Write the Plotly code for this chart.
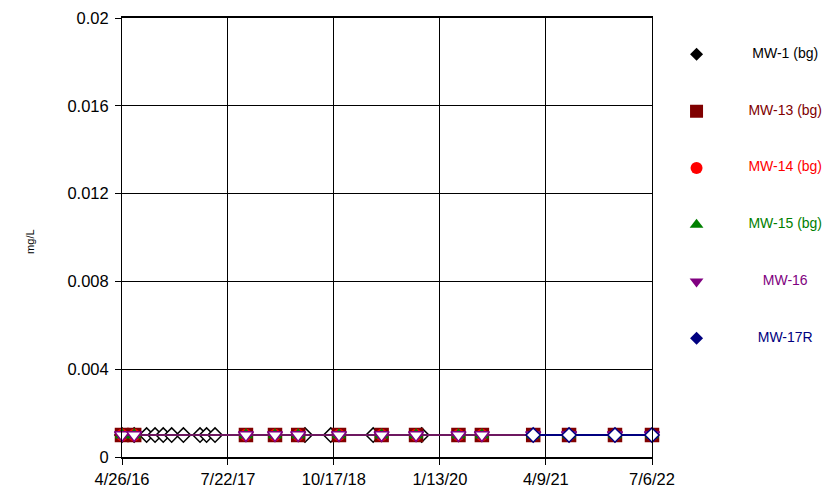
import plotly.graph_objects as go

# Sample dates (all results reported at the 0.001 mg/L reporting limit)
DATES_MW1 = [
    "2016-04-26", "2016-06-17", "2016-08-09", "2016-09-14", "2016-10-19",
    "2016-11-24", "2017-01-13", "2017-03-25", "2017-04-22", "2017-05-28",
    "2018-06-16", "2018-10-04", "2019-04-03", "2019-10-27",
]
VALUES_MW1 = [0.001] * len(DATES_MW1)

DATES_DOWN = [
    "2016-04-26", "2016-06-17", "2017-10-07", "2018-02-08", "2018-05-18",
    "2018-11-08", "2019-05-09", "2019-10-03", "2020-04-01", "2020-07-10",
    "2021-02-14", "2021-07-17", "2022-01-29", "2022-07-06",
]
VALUES_MW13 = [0.001] * len(DATES_DOWN)
VALUES_MW14 = [0.001] * len(DATES_DOWN)
VALUES_MW15 = [0.001] * len(DATES_DOWN)
VALUES_MW16 = [0.001] * len(DATES_DOWN)

DATES_MW17R = ["2021-02-14", "2021-07-17", "2022-01-29", "2022-07-06"]
VALUES_MW17R = [0.001] * len(DATES_MW17R)

TICK_DATES = ["2016-04-26", "2017-07-22", "2018-10-17", "2020-01-13", "2021-04-09", "2022-07-06"]
TICK_TEXT = ["4/26/16", "7/22/17", "10/17/18", "1/13/20", "4/9/21", "7/6/22"]

LEGEND_NAMES = ["MW-1 (bg)", "MW-13 (bg)", "MW-14 (bg)", "MW-15 (bg)", "MW-16", "MW-17R"]
LEGEND_COLORS = ["#000000", "#800000", "#ff0000", "#008000", "#800080", "#000080"]
LEGEND_SYMBOLS = ["diamond", "square", "circle", "triangle-up", "triangle-down", "diamond"]

FONT = "Liberation Sans, Arial, sans-serif"

fig = go.Figure()

series = [
    (DATES_MW1, VALUES_MW1, "#000000", "diamond", "white", 11, 1.5),
    (DATES_DOWN, VALUES_MW13, "#800000", "square", "#800000", 13, 2),
    (DATES_DOWN, VALUES_MW14, "#ff0000", "circle", "#ff0000", 11, 1.5),
    (DATES_DOWN, VALUES_MW15, "#008000", "triangle-up", "#008000", 11, 1.5),
    (DATES_DOWN, VALUES_MW16, "#800080", "triangle-down", "white", 13, 1.5),
    (DATES_MW17R, VALUES_MW17R, "#000080", "diamond", "white", 11, 2),
]
for dates, vals, color, symbol, fill, size, lw in series:
    fig.add_trace(go.Scatter(
        x=dates, y=vals, mode="lines+markers",
        line=dict(color=color, width=lw),
        marker=dict(symbol=symbol, size=size, color=fill, opacity=1,
                    line=dict(color=color, width=1.5)),
        cliponaxis=False, showlegend=False, hoverinfo="skip",
    ))

# Hand-built legend on a hidden second axis pair at the right
rows = list(range(len(LEGEND_NAMES)))
fig.add_trace(go.Scatter(
    x=[0.18] * len(rows), y=rows, mode="markers",
    marker=dict(symbol=LEGEND_SYMBOLS, size=[10, 13, 12, 12, 12, 10],
                color=LEGEND_COLORS, opacity=1, line=dict(width=0)),
    xaxis="x2", yaxis="y2", showlegend=False, hoverinfo="skip",
))
fig.add_trace(go.Scatter(
    x=[0.755] * len(rows), y=rows, mode="text",
    text=LEGEND_NAMES, textposition="middle center",
    textfont=dict(color=LEGEND_COLORS, size=14, family=FONT),
    xaxis="x2", yaxis="y2", showlegend=False, hoverinfo="skip",
))

fig.add_annotation(
    text="mg/L", textangle=-90, xref="paper", yref="paper",
    x=(30 - 122) / 701, y=0.49, xanchor="center", yanchor="middle",
    showarrow=False, font=dict(size=11, family=FONT),
)

fig.update_layout(
    width=823, height=490,
    margin=dict(l=122, r=0, t=18, b=33),
    plot_bgcolor="white", paper_bgcolor="white",
    font=dict(family=FONT, color="black", size=16.5),
    xaxis=dict(
        domain=[0, 530 / 701],
        type="date", automargin=False,
        range=["2016-04-26", "2022-07-06"],
        tickmode="array", tickvals=TICK_DATES, ticktext=TICK_TEXT,
        ticks="outside", ticklen=6, tickcolor="black", tickwidth=1,
        showgrid=True, gridcolor="black", gridwidth=1,
        showline=True, linecolor="black", linewidth=2, mirror=True,
        zeroline=False,
    ),
    yaxis=dict(
        range=[0, 0.02], automargin=False,
        tickmode="array",
        tickvals=[0, 0.004, 0.008, 0.012, 0.016, 0.02],
        ticktext=["0", "0.004", "0.008", "0.012", "0.016", "0.02"],
        ticks="outside", ticklen=6, tickcolor="black", tickwidth=1,
        ticklabelstandoff=3,
        showgrid=True, gridcolor="black", gridwidth=1,
        showline=True, linecolor="black", linewidth=1, mirror=True,
        zeroline=False,
    ),
    xaxis2=dict(domain=[0.78, 1.0], range=[0, 1], visible=False, fixedrange=True),
    yaxis2=dict(anchor="x2", range=[7.09, -0.64], visible=False, fixedrange=True),
)

fig.write_html(
    "out.html",
    config={"displayModeBar": False},
    post_script="document.body.style.margin='0';document.body.style.overflow='hidden';",
)
